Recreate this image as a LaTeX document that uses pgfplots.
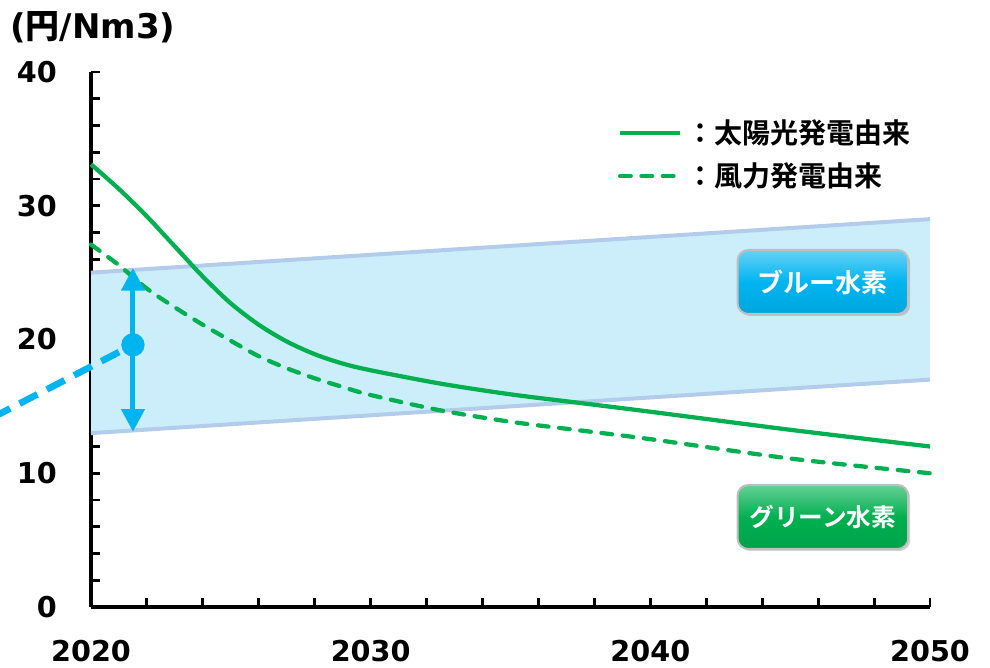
\documentclass[border=0pt]{standalone}
\usepackage{pgfplots}
\pgfplotsset{compat=1.18}
\usepackage{fontspec}
\usetikzlibrary{arrows.meta,shadows}
\setmainfont{DejaVu Sans}
\newfontfamily\cjk{Noto Sans CJK JP Bold}
\definecolor{ggreen}{HTML}{00B050}
\definecolor{bblue}{HTML}{00B4F0}
\definecolor{bandfill}{HTML}{CCEEFA}
\definecolor{bandedge}{HTML}{B4CCEB}
\begin{document}
\begin{tikzpicture}
\begin{axis}[
  scale only axis, width=629.25pt, height=401.25pt,
  xmin=2020, xmax=2050, ymin=0, ymax=40,
  axis lines=left, clip=false,
  axis line style={-, line width=3pt, black},
  xtick={2020,2030,2040,2050}, xticklabels={2020,2030,2040,2050},
  ytick={0,10,20,30,40}, yticklabels={0,10,20,30,40},
  minor x tick num=4, minor y tick num=4,
  tick align=inside, major tick length=7pt, minor tick length=7pt,
  tick style={line width=2.2pt, black},
  /pgf/number format/assume math mode=true,
  ticklabel style={font=\bfseries\fontsize{21.5}{21.5}\selectfont, inner sep=0pt},
  yticklabel style={anchor=east, xshift=-25.5pt},
  xticklabel style={anchor=north, yshift=-24.5pt},
]
\coordinate (O) at (axis cs:2020,0);
% blue band
\addplot[fill=bandfill, draw=none] coordinates {(2020,13) (2050,17) (2050,29) (2020,25)} -- cycle;
\addplot[bandedge, line width=3pt] coordinates {(2020,25) (2050,29)};
\addplot[bandedge, line width=3pt] coordinates {(2020,13) (2050,17)};
% solar
\addplot[ggreen, line width=3.2pt, smooth, tension=0.5] coordinates {
 (2020,33.1) (2021,31.25) (2022,29.2) (2023,26.95) (2024,24.7) (2025,22.7)
 (2026,21.1) (2027,19.85) (2028,18.9) (2029,18.2) (2030,17.7) (2032.5,16.7)
 (2035,15.9) (2037.5,15.25) (2040,14.6) (2045,13.25) (2050,12.0)};
% wind
\addplot[ggreen, line width=3.2pt, smooth, tension=0.5, dash pattern=on 8pt off 8pt, line cap=round] coordinates {
 (2020,27.1) (2021,25.55) (2022,23.8) (2023,22.4) (2024,21.1) (2025,19.9)
 (2026,18.75) (2027,17.85) (2028,17.1) (2029,16.45) (2030,15.85) (2032.5,14.7)
 (2035,13.85) (2037.5,13.2) (2040,12.55) (2045,11.1) (2050,10.0)};
% legend samples
\addplot[ggreen, line width=3.2pt] coordinates {(2038.92,35.44) (2041.07,35.44)};
\addplot[ggreen, line width=3.2pt, dash pattern=on 8pt off 8pt, line cap=round] coordinates {(2038.92,32.22) (2040.95,32.22)};
\node[anchor=west, inner sep=0pt, font=\cjk\fontsize{21}{21}\selectfont] at (axis cs:2041.3,35.44) {：太陽光発電由来};
\node[anchor=west, inner sep=0pt, font=\cjk\fontsize{21}{21}\selectfont] at (axis cs:2041.3,32.22) {：風力発電由来};
% blue historic
\addplot[bblue, line width=5pt, dash pattern=on 15pt off 8pt] coordinates {(2015.5,13.1) (2021.5,19.6)};
\addplot[bblue, line width=3.8pt, {Triangle[width=17pt,length=17pt]}-{Triangle[width=17pt,length=17pt]}] coordinates {(2021.5,13.1) (2021.5,25.35)};
\addplot[only marks, mark=*, mark size=8.5pt, color=bblue] coordinates {(2021.5,19.6)};
% buttons
\node[draw=black!25, line width=1.5pt, rounded corners=8pt, top color=bblue!60!white, bottom color=bblue!92!black, middle color=bblue,
  drop shadow={opacity=0.35, shadow xshift=1.5pt, shadow yshift=-1.5pt},
  minimum width=128pt, minimum height=48pt, text=white, font=\cjk\fontsize{19.5}{19.5}\selectfont]
  at (axis cs:2046.17,24.3) {ブルー水素};
\node[draw=black!25, line width=1.5pt, rounded corners=8pt, top color=ggreen!60!white, bottom color=ggreen!92!black, middle color=ggreen,
  drop shadow={opacity=0.35, shadow xshift=1.5pt, shadow yshift=-1.5pt},
  minimum width=128pt, minimum height=48pt, text=white, font=\cjk\fontsize{18.5}{18.5}\selectfont]
  at (axis cs:2046.17,6.73) {グリーン水素};
% unit label
\node[font=\bfseries\fontsize{25.5}{25.5}\selectfont, inner sep=0pt] at (axis cs:2020.07,43.36) {({\cjk 円}/Nm3)};
\end{axis}
\pgfresetboundingbox
\path (O) ++(-68.25pt,-45.75pt) rectangle ++(742.5pt,501pt);
\end{tikzpicture}
\end{document}
